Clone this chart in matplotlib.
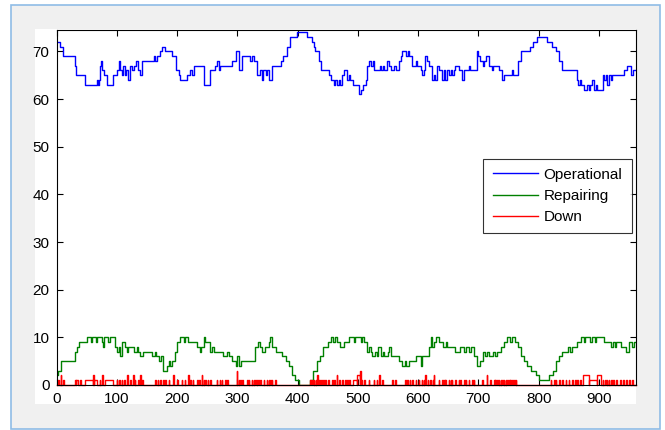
import numpy as np
import matplotlib.pyplot as plt
from matplotlib.patches import Rectangle

# step change points (value holds until the next time)
op_t = [0, 6, 11, 31, 33, 47, 67, 69, 71, 72, 74, 76, 78, 84, 94, 100, 103, 106, 108,
        110, 113, 116, 119, 122, 126, 129, 132, 135, 138, 142, 161, 164, 166, 172, 175,
        180, 191, 199, 203, 205, 216, 222, 225, 228, 233, 245, 255, 263, 266, 269, 272,
        277, 291, 297, 302, 308, 313, 321, 325, 328, 332, 338, 341, 343, 347, 350, 352,
        357, 372, 375, 382, 388, 399, 415, 424, 427, 429, 435, 439, 452, 455, 460, 462,
        465, 468, 470, 474, 477, 482, 485, 487, 492, 502, 505, 508, 513, 516, 519, 522,
        525, 527, 536, 538, 541, 543, 549, 552, 555, 560, 563, 568, 572, 574, 580, 583,
        585, 590, 596, 598, 604, 607, 609, 612, 615, 618, 623, 626, 628, 631, 635, 640,
        643, 645, 648, 651, 654, 656, 659, 662, 668, 673, 676, 684, 686, 697, 700, 703,
        708, 710, 712, 717, 722, 725, 734, 739, 743, 756, 758, 765, 771, 786, 791, 797,
        814, 822, 828, 833, 839, 864, 866, 868, 870, 875, 880, 883, 886, 889, 892, 895,
        897, 906, 909, 911, 914, 917, 920, 922, 942, 947, 953, 957]
op_v = [72, 71, 69, 67, 65, 63, 64, 63, 64, 67, 68, 66, 65, 63, 65, 66, 68, 66, 65,
        67, 65, 66, 64, 67, 66, 67, 68, 66, 65, 68, 69, 68, 69, 70, 71,
        70, 69, 66, 65, 64, 65, 66, 65, 67, 67, 63, 66, 67, 68, 66, 67,
        67, 68, 70, 66, 69, 69, 68, 69, 68, 65, 66, 64, 66, 65, 66, 64,
        67, 68, 69, 71, 73, 74, 73, 72, 71, 70, 68, 66, 65, 64, 63, 64,
        63, 64, 63, 65, 66, 64, 65, 64, 63, 61, 62, 63, 64, 67, 68, 67,
        68, 66, 67, 66, 67, 66, 68, 67, 66, 67, 66, 68, 69, 70, 69, 70,
        69, 67, 68, 67, 66, 65, 66, 69, 68, 67, 64, 65, 64, 67, 66, 64,
        66, 64, 66, 65, 66, 65, 66, 67, 66, 64, 66, 67, 66, 70, 69, 68,
        67, 68, 69, 67, 66, 67, 66, 64, 65, 66, 65, 68, 70, 71, 72, 73,
        72, 71, 70, 68, 66, 64, 63, 64, 63, 62, 63, 62, 63, 64, 62, 63,
        62, 65, 64, 65, 63, 65, 64, 65, 66, 67, 65, 66]

rep_t = [0, 3, 7, 31, 34, 38, 50, 57, 59, 66, 68, 75, 77, 79, 86, 89, 97, 101, 104, 106,
         108, 114, 117, 119, 128, 134, 136, 139, 144, 158, 163, 165, 170, 174, 176, 177,
         183, 186, 188, 191, 196, 200, 205, 212, 214, 218, 233, 238, 240, 244, 247, 255,
         258, 261, 277, 283, 286, 291, 297, 300, 303, 306, 330, 334, 338, 341, 346, 352,
         354, 357, 365, 374, 380, 385, 391, 396, 402, 421, 426, 432, 438, 443, 451, 456,
         459, 462, 466, 471, 477, 485, 493, 495, 505, 507, 510, 516, 519, 521, 524, 528,
         531, 533, 538, 541, 544, 550, 552, 555, 568, 574, 578, 580, 585, 596, 604, 607,
         618, 621, 623, 627, 630, 635, 642, 646, 648, 662, 670, 676, 679, 684, 687, 692,
         698, 703, 708, 711, 714, 717, 725, 728, 731, 737, 742, 748, 752, 756, 760, 765,
         771, 776, 781, 787, 795, 800, 817, 823, 828, 833, 839, 848, 852, 855, 864, 870,
         875, 877, 886, 889, 893, 895, 909, 920, 923, 926, 928, 936, 945, 950, 955, 958]
rep_v = [2, 3, 5, 7, 8, 9, 10, 9, 10, 9, 10, 9, 8, 10, 9, 10, 8, 7, 8, 6,
         9, 8, 7, 8, 7, 8, 7, 6, 7, 6, 7, 6, 5, 6, 4, 3,
         4, 5, 4, 5, 7, 9, 10, 9, 10, 9, 8, 7, 8, 10, 9, 7,
         8, 7, 6, 7, 6, 5, 4, 6, 4, 5, 8, 9, 8, 7, 8, 9,
         10, 8, 7, 6, 5, 4, 2, 1, 0, 1, 3, 5, 6, 8, 9, 10,
         9, 10, 9, 8, 9, 10, 9, 10, 9, 10, 9, 7, 8, 7, 6, 7,
         6, 8, 6, 7, 6, 7, 8, 6, 5, 4, 5, 4, 5, 6, 4, 6,
         8, 10, 8, 9, 10, 9, 8, 9, 8, 7, 8, 7, 8, 7, 8, 6,
         4, 5, 7, 6, 7, 6, 7, 6, 7, 8, 9, 10, 9, 10, 9, 8,
         6, 5, 4, 3, 2, 1, 2, 3, 5, 6, 7, 8, 7, 8, 9, 10,
         9, 10, 9, 10, 9, 10, 9, 8, 9, 8, 9, 8, 7, 9, 8, 9]

# red series: short failure bursts (start, duration, height)
down_start = [3, 7, 11, 31, 33, 39, 47, 61, 63, 72, 76, 81, 100, 104, 108, 112, 117, 122,
              127, 130, 136, 139, 142, 164, 168, 172, 177, 180, 186, 194, 200, 208, 213,
              219, 222, 226, 233, 237, 241, 244, 247, 251, 255, 266, 271, 274, 280, 283,
              299, 302, 305, 308, 316, 319, 324, 327, 330, 332, 335, 338, 344, 349, 352,
              355, 357, 363, 421, 424, 427, 430, 433, 436, 439, 443, 446, 451, 457, 461,
              465, 469, 474, 479, 482, 486, 492, 498, 503, 505, 511, 518, 526, 531, 535,
              540, 557, 562, 579, 582, 586, 590, 596, 601, 606, 609, 612, 616, 620, 624,
              626, 634, 640, 643, 645, 651, 654, 656, 662, 667, 670, 676, 679, 684, 690,
              692, 706, 714, 720, 726, 728, 731, 734, 737, 739, 742, 745, 748, 751, 753,
              756, 759, 762, 820, 826, 828, 834, 839, 845, 850, 856, 861, 864, 869, 874,
              883, 897, 906, 910, 913, 916, 920, 924, 929, 935, 940, 945, 950, 955]
down_len = [1, 1, 1, 1, 2, 1, 14, 2, 4, 1, 1, 13, 1, 1, 1, 1, 1, 1,
            1, 1, 1, 1, 1, 1, 1, 1, 1, 1, 1, 1, 1, 1, 1,
            1, 1, 1, 1, 1, 1, 1, 1, 1, 1, 1, 1, 1, 1, 1,
            1, 1, 1, 1, 1, 1, 1, 1, 1, 1, 1, 1, 1, 1, 1,
            1, 1, 1, 1, 1, 1, 1, 1, 1, 1, 1, 1, 1, 1, 1,
            1, 1, 1, 1, 1, 1, 6, 5, 2, 2, 1, 1, 1, 1, 1,
            1, 1, 1, 1, 1, 1, 1, 1, 1, 1, 1, 1, 1, 1, 1,
            1, 1, 1, 1, 1, 1, 1, 1, 1, 1, 1, 1, 1, 1, 1,
            1, 1, 1, 1, 1, 1, 1, 1, 1, 1, 1, 1, 1, 1, 1,
            1, 1, 1, 1, 1, 1, 1, 1, 1, 1, 1, 1, 1, 1, 9,
            14, 6, 1, 1, 1, 1, 1, 1, 1, 1, 1, 1, 1, 1]
down_h = [1, 2, 1, 1, 1, 1, 1, 2, 1, 1, 2, 1, 1, 1, 1, 1, 2, 1,
          2, 1, 1, 2, 1, 1, 1, 1, 1, 1, 1, 2, 1, 1, 1,
          2, 1, 1, 1, 1, 2, 1, 1, 1, 1, 1, 1, 1, 1, 1,
          3, 1, 1, 1, 1, 1, 1, 1, 1, 1, 1, 1, 1, 1, 1,
          1, 1, 1, 1, 1, 1, 1, 2, 1, 1, 1, 1, 1, 1, 1,
          2, 1, 1, 1, 1, 1, 1, 2, 3, 1, 1, 1, 1, 1, 2,
          1, 1, 1, 1, 1, 1, 1, 1, 1, 1, 1, 2, 1, 1, 1,
          2, 1, 1, 1, 1, 1, 1, 1, 1, 1, 1, 1, 1, 1, 1,
          1, 1, 2, 1, 1, 1, 1, 1, 1, 1, 1, 1, 1, 1, 1,
          1, 1, 1, 1, 1, 1, 1, 1, 1, 1, 1, 1, 1, 1, 2,
          1, 2, 1, 1, 1, 1, 1, 1, 1, 1, 1, 1, 1, 1]

t_end = 961


def steps(t, v):
    return list(t) + [t_end], list(v) + [v[-1]]


def bursts(start, dur, h):
    t, v = [0], [0]
    for s, d, k in zip(start, dur, h):
        t += [s, s + d]
        v += [k, 0]
    return steps(t, v)


plt.rcParams['font.family'] = ['Liberation Sans', 'DejaVu Sans']

fig = plt.figure(figsize=(6.65, 4.3), dpi=100, facecolor='white')
W, H = 665, 430

# gray panel with light blue border, white figure area behind the axes
fig.patches.append(Rectangle((11 / W, 1 - 429 / H), 649 / W, 424 / H,
                             transform=fig.transFigure, facecolor='#f0f0f0',
                             edgecolor='#8fbce6', lw=1.2, zorder=-3))
fig.patches.append(Rectangle((35 / W, 1 - 404 / H), 601 / W, 375 / H,
                             transform=fig.transFigure, facecolor='white',
                             edgecolor='none', zorder=-2))

ax = fig.add_axes([56.5 / W, 45 / H, 579.2 / W, 355.5 / H])

x, y = steps(op_t, op_v)
ax.plot(x, y, color='#0000ff', lw=1.0, drawstyle='steps-post', label='Operational')
x, y = steps(rep_t, rep_v)
ax.plot(x, y, color='#008000', lw=1.0, drawstyle='steps-post', label='Repairing')
x, y = bursts(down_start, down_len, down_h)
ax.plot(x, y, color='#ff0000', lw=1.0, drawstyle='steps-post', label='Down',
        clip_on=False)

ax.set_xlim(0, t_end)
ax.set_ylim(0, 74.6)
ax.set_xticks(np.arange(0, 901, 100))
ax.set_yticks(np.arange(0, 71, 10))
ax.tick_params(direction='in', top=True, right=True, length=4, width=0.8,
               labelsize=11, colors='black', pad=5)
for s in ax.spines.values():
    s.set_linewidth(0.8)

leg = ax.legend(loc='upper left', bbox_to_anchor=(0.737, 0.637), borderaxespad=0,
                fontsize=11, frameon=True, fancybox=False, handlelength=3.0,
                handletextpad=0.35, labelspacing=0.47, borderpad=0.6)
leg.get_frame().set_edgecolor('black')
leg.get_frame().set_linewidth(0.8)

fig.savefig('out.png', dpi=100, facecolor=fig.get_facecolor())
